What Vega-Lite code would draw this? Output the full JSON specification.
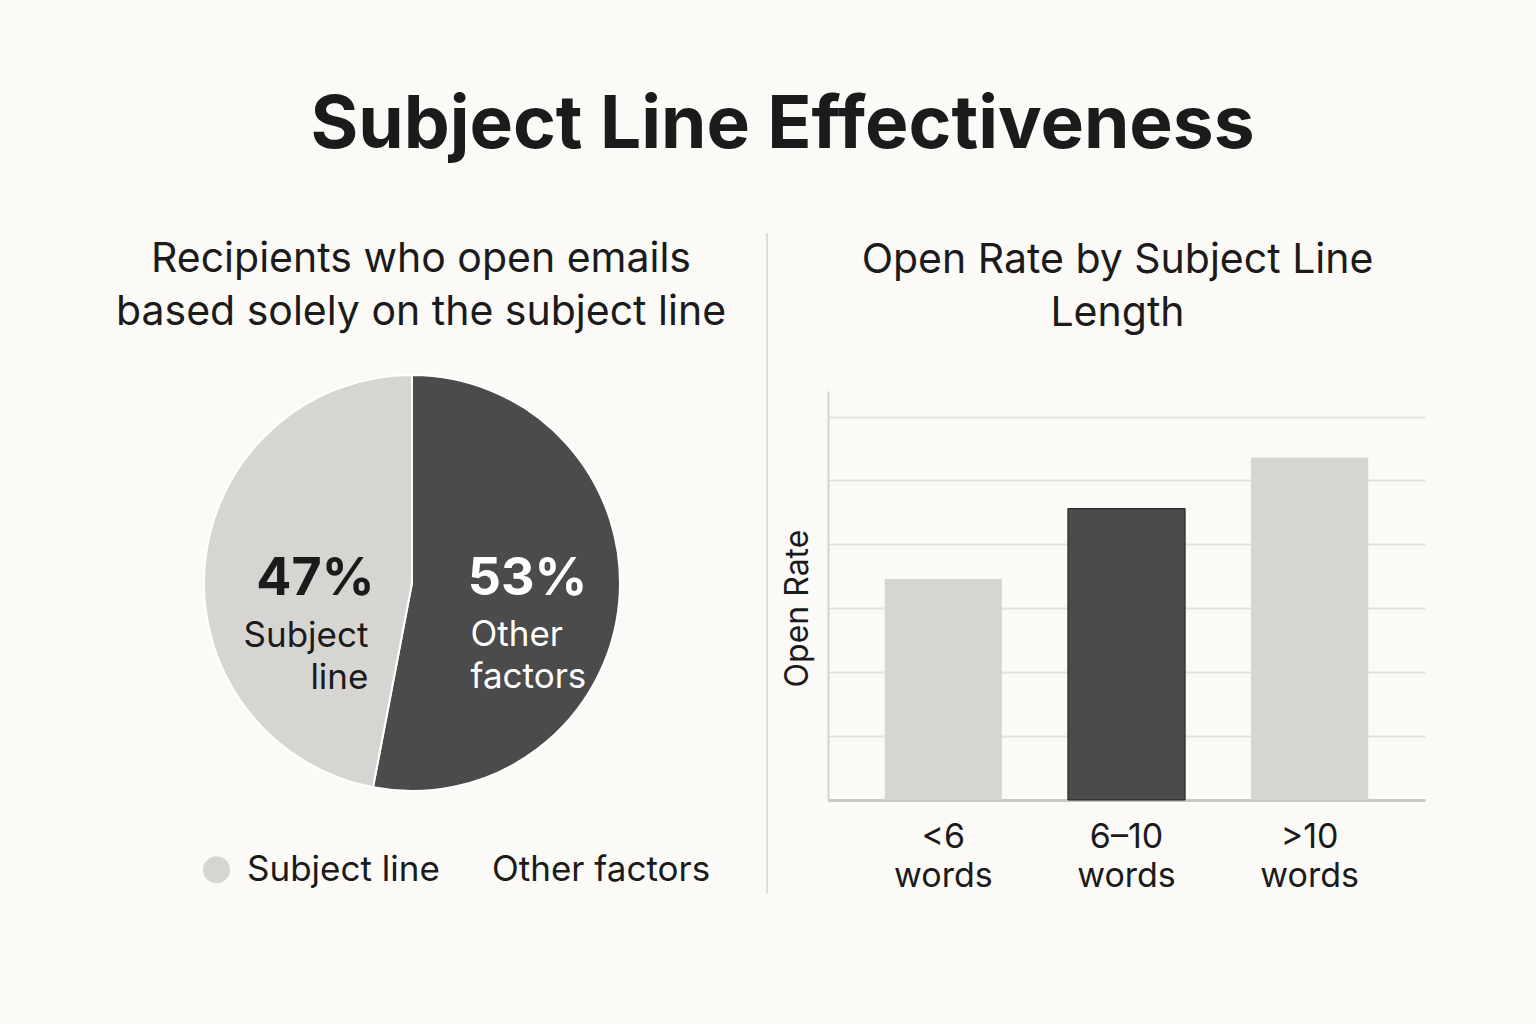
{
  "$schema": "https://vega.github.io/schema/vega-lite/v6.json",
  "background": "#fbfaf7",
  "padding": {"left": 112, "top": 90, "right": 111, "bottom": 135},
  "title": {
    "text": "Subject Line Effectiveness",
    "font": "Inter",
    "fontSize": 73,
    "fontWeight": 700,
    "color": "#1b1b1b",
    "anchor": "middle",
    "dx": 14,
    "offset": 69
  },
  "spacing": 10,
  "hconcat": [
    {
      "width": 600,
      "height": 384,
      "title": {
        "text": ["Recipients who open emails", "based solely on the subject line"],
        "font": "Inter",
        "fontSize": 41,
        "fontWeight": 400,
        "lineHeight": 53,
        "color": "#1b1b1b",
        "dx": 9,
        "offset": 37
      },
      "data": {
        "values": [
          {"factor": "Other factors", "pct": 53, "order": 1, "label": "53%", "name": "Other\nfactors"},
          {"factor": "Subject line", "pct": 47, "order": 2, "label": "47%", "name": "Subject\nline"}
        ]
      },
      "encoding": {
        "theta": {"field": "pct", "type": "quantitative", "stack": true},
        "order": {"field": "order"}
      },
      "layer": [
        {
          "mark": {"type": "point", "filled": true, "size": 700, "opacity": 1},
          "encoding": {
            "color": {
              "field": "factor",
              "type": "nominal",
              "scale": {"domain": ["Subject line", "Other factors"], "range": ["#d6d5d2", "#fbfaf7"]},
              "legend": {
                "title": null,
                "orient": "none",
                "direction": "horizontal",
                "legendX": 87,
                "legendY": 461,
                "symbolType": "circle",
                "symbolSize": 729,
                "labelFont": "Inter",
                "labelFontSize": 35,
                "labelColor": "#1b1b1b",
                "labelOffset": 13,
                "labelLimit": 400,
                "columnPadding": 4
              }
            }
          }
        },
        {
          "mark": {"type": "arc", "radius": 208, "stroke": "#ffffff", "strokeWidth": 2},
          "encoding": {
            "color": {
              "field": "factor",
              "type": "nominal",
              "scale": {"domain": ["Subject line", "Other factors"], "range": ["#d6d5d2", "#4b4b4b"]},
              "legend": null
            }
          }
        },
        {
          "mark": {"type": "text", "radius": 97, "dy": 5, "font": "Inter", "fontSize": 52, "fontWeight": 700, "color": "#1b1b1b", "align": "center", "baseline": "middle"},
          "encoding": {
            "text": {"condition": {"test": "datum.factor === 'Subject line'", "field": "label"}, "value": ""}
          }
        },
        {
          "mark": {"type": "text", "radius": 116, "dy": -15, "font": "Inter", "fontSize": 52, "fontWeight": 700, "color": "#ffffff", "align": "center", "baseline": "middle"},
          "encoding": {
            "text": {"condition": {"test": "datum.factor === 'Other factors'", "field": "label"}, "value": ""}
          }
        },
        {
          "mark": {"type": "text", "radius": 97, "dy": 45, "dx": 53, "font": "Inter", "fontSize": 35, "lineHeight": 42, "lineBreak": "\n", "color": "#1b1b1b", "align": "right", "baseline": "top"},
          "encoding": {
            "text": {"condition": {"test": "datum.factor === 'Subject line'", "field": "name"}, "value": ""}
          }
        },
        {
          "mark": {"type": "text", "radius": 116, "dy": 24, "dx": -57, "font": "Inter", "fontSize": 35, "lineHeight": 42, "lineBreak": "\n", "color": "#ffffff", "align": "left", "baseline": "top"},
          "encoding": {
            "text": {"condition": {"test": "datum.factor === 'Other factors'", "field": "name"}, "value": ""}
          }
        }
      ],
      "resolve": {"scale": {"color": "independent"}}
    },
    {
      "width": 34,
      "height": 502,
      "data": {"values": [{"s": 30, "y0": 0, "y1": 660}]},
      "mark": {"type": "rule", "color": "#dedcd8", "strokeWidth": 2},
      "encoding": {
        "x": {"field": "s", "type": "quantitative", "scale": {"domain": [0, 34]}, "axis": null},
        "y": {"field": "y0", "type": "quantitative", "scale": {"domain": [0, 502], "nice": false}, "axis": null},
        "y2": {"field": "y1"}
      }
    },
    {
      "width": 597,
      "height": 409,
      "title": {
        "text": ["Open Rate by Subject Line", "Length"],
        "font": "Inter",
        "fontSize": 41,
        "fontWeight": 400,
        "lineHeight": 53,
        "color": "#1b1b1b",
        "dx": -9,
        "offset": 56
      },
      "data": {
        "values": [
          {"length": "<6 words", "rate": 17.3, "highlight": "no"},
          {"length": "6–10 words", "rate": 22.8, "highlight": "yes"},
          {"length": ">10 words", "rate": 26.8, "highlight": "no"}
        ]
      },
      "mark": {"type": "bar"},
      "encoding": {
        "x": {
          "field": "length",
          "type": "nominal",
          "sort": null,
          "scale": {"paddingInner": 0.36, "paddingOuter": 0.31},
          "axis": {
            "title": null,
            "labelAngle": 0,
            "labelExpr": "split(datum.label, ' ')",
            "labelFont": "Inter",
            "labelFontSize": 34,
            "labelLineHeight": 39,
            "labelColor": "#1b1b1b",
            "labelPadding": 20,
            "ticks": false,
            "domainColor": "#c9c8c5",
            "domainWidth": 3
          }
        },
        "y": {
          "field": "rate",
          "type": "quantitative",
          "scale": {"domain": [0, 32], "nice": false},
          "axis": {
            "title": "Open Rate",
            "titleFont": "Inter",
            "titleFontSize": 32,
            "titleFontWeight": 400,
            "titleColor": "#1b1b1b",
            "titlePadding": 14,
            "titleY": 217,
            "labels": false,
            "ticks": false,
            "values": [5, 10, 15, 20, 25, 30],
            "grid": true,
            "gridColor": "#e2e1de",
            "gridWidth": 2,
            "domainColor": "#d2d1ce",
            "domainWidth": 2
          }
        },
        "color": {
          "field": "highlight",
          "type": "nominal",
          "scale": {"domain": ["no", "yes"], "range": ["#d6d5d2", "#4b4b4b"]},
          "legend": null
        },
        "stroke": {
          "field": "highlight",
          "type": "nominal",
          "scale": {"domain": ["no", "yes"], "range": ["transparent", "#222222"]},
          "legend": null
        }
      }
    }
  ],
  "config": {
    "view": {"stroke": null},
    "title": {"anchor": "middle"}
  }
}
